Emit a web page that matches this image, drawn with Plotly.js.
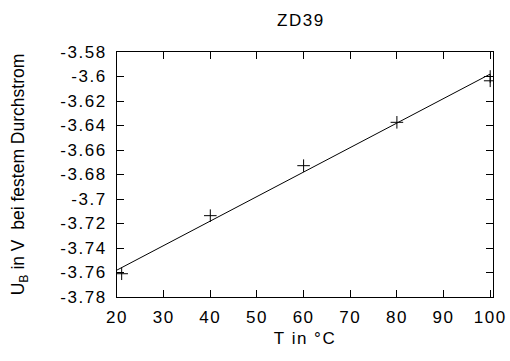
<!DOCTYPE html>
<html>
<head>
<meta charset="utf-8">
<script src="https://cdn.plot.ly/plotly-3.0.1.min.js"></script>
<style>
html,body{margin:0;padding:0;background:#fff}
#chart{width:510px;height:361px}
#chart .xtick text, #chart .ytick text, #chart .xtitle, #chart .gtitle{letter-spacing:1.5px}
</style>
</head>
<body>
<div id="chart"></div>
<script>
// Measured data
const tempC = [21, 40, 60, 80, 100, 100];
const voltage = [-3.761, -3.7136, -3.6728, -3.6374, -3.600, -3.6035];
// Fitted line endpoints
const fitT = [20, 100];
const fitU = [-3.758, -3.598];
const xTicks = [20, 30, 40, 50, 60, 70, 80, 90, 100];
const yTicks = [-3.78, -3.76, -3.74, -3.72, -3.7, -3.68, -3.66, -3.64, -3.62, -3.6, -3.58];
const yTickText = ['-3.78', '-3.76', '-3.74', '-3.72', '-3.7', '-3.68', '-3.66', '-3.64', '-3.62', '-3.6', '-3.58'];

const font = {family: 'Liberation Sans, Arial, sans-serif', size: 17, color: '#000'};
const yTitleFont = {family: 'Liberation Sans, Arial, sans-serif', size: 17.5, color: '#000'};

const traces = [
  {x: fitT, y: fitU, mode: 'lines', line: {color: '#000', width: 1}, hoverinfo: 'skip'},
  {x: tempC, y: voltage, mode: 'markers',
   marker: {symbol: 'cross-thin-open', size: 9, color: '#000', line: {color: '#000', width: 1}}}
];

const axisCommon = {
  showgrid: false, zeroline: false, showline: true, linecolor: '#000', linewidth: 1,
  mirror: 'ticks', ticks: 'inside', ticklen: 7, tickcolor: '#000', tickwidth: 1,
  tickfont: font
};

const layout = {
  width: 510, height: 361,
  margin: {l: 117, r: 17, t: 52, b: 64},
  paper_bgcolor: '#fff', plot_bgcolor: '#fff',
  showlegend: false,
  font: font,
  title: {text: 'ZD39', font: font, x: 0.59, xanchor: 'center', y: 0.945, yanchor: 'middle'},
  xaxis: Object.assign({}, axisCommon, {
    range: [20, 100.6], tickvals: xTicks, ticktext: xTicks.map(String),
    ticklabelstandoff: 5,
    title: {text: 'T in °C', font: font, standoff: 5}
  }),
  yaxis: Object.assign({}, axisCommon, {
    range: [-3.78, -3.58], tickvals: yTicks, ticktext: yTickText,
    ticklabelstandoff: 6,
    title: {text: 'U<sub>B</sub> in V  bei festem Durchstrom', font: yTitleFont, standoff: 38}
  })
};

Plotly.newPlot('chart', traces, layout, {displayModeBar: false, staticPlot: true});
</script>
</body>
</html>
